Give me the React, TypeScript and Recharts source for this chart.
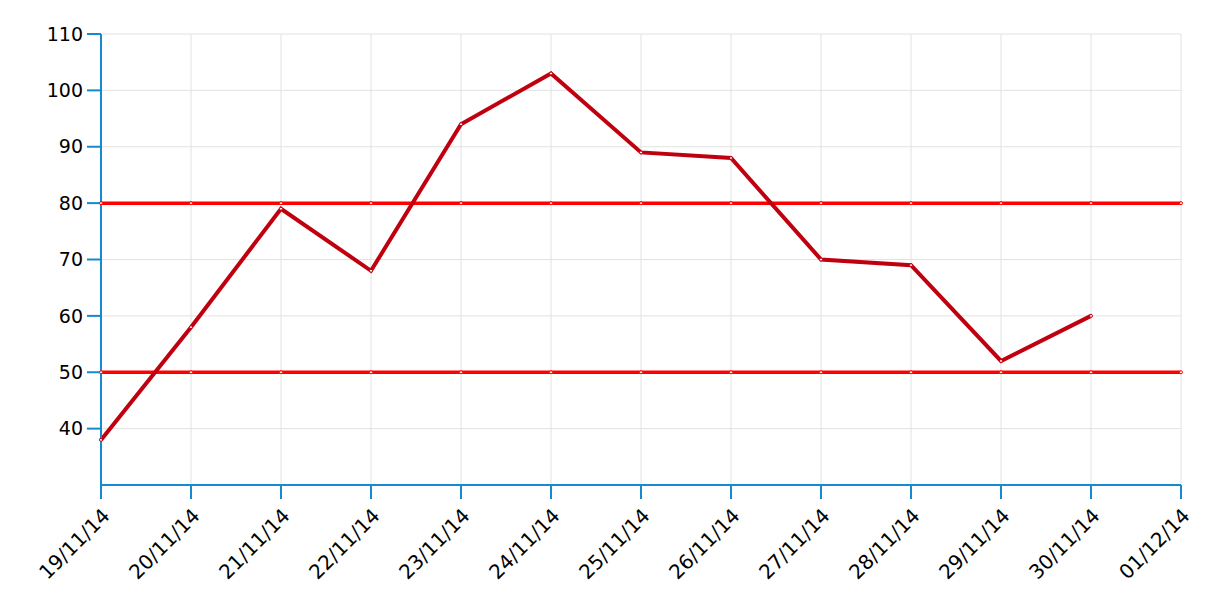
import { CartesianGrid, Line, LineChart, XAxis, YAxis } from "recharts";

const dates = [
  "19/11/14",
  "20/11/14",
  "21/11/14",
  "22/11/14",
  "23/11/14",
  "24/11/14",
  "25/11/14",
  "26/11/14",
  "27/11/14",
  "28/11/14",
  "29/11/14",
  "30/11/14",
  "01/12/14",
];
const values: (number | null)[] = [38, 58, 79, 68, 94, 103, 89, 88, 70, 69, 52, 60, null];
const upperLimit = [80, 80, 80, 80, 80, 80, 80, 80, 80, 80, 80, 80, 80];
const lowerLimit = [50, 50, 50, 50, 50, 50, 50, 50, 50, 50, 50, 50, 50];
const yTicks = [40, 50, 60, 70, 80, 90, 100, 110];

const data = dates.map((date, i) => ({
  date,
  value: values[i],
  upper: upperLimit[i],
  lower: lowerLimit[i],
}));

const axisColor = "#1689cf";
const font = "DejaVu Sans, Verdana, sans-serif";

export default function App() {
  return (
    <div style={{ width: 1194, height: 590, fontFamily: font }}>
      <LineChart
        width={1194}
        height={590}
        data={data}
        margin={{ top: 26, right: 21, left: 23, bottom: 13 }}
      >
        <CartesianGrid stroke="#e2e2e2" strokeWidth={1} />
        <XAxis
          dataKey="date"
          stroke={axisColor}
          strokeWidth={2}
          tickSize={14}
          tickMargin={8}
          angle={-45}
          textAnchor="end"
          interval={0}
          height={100}
          tick={{ fill: "#000", fontSize: 20, fontFamily: font }}
        />
        <YAxis
          type="number"
          domain={[30, 110]}
          ticks={yTicks}
          stroke={axisColor}
          strokeWidth={2}
          tickSize={14}
          tickMargin={4}
          width={70}
          tick={{ fill: "#000", fontSize: 19, fontFamily: font }}
        />
        <Line
          dataKey="upper"
          stroke="#ff0000"
          strokeWidth={3.5}
          dot={{ r: 1.5, fill: "#fff", stroke: "#ff0000", strokeWidth: 1 }}
          isAnimationActive={false}
        />
        <Line
          dataKey="lower"
          stroke="#ff0000"
          strokeWidth={3.5}
          dot={{ r: 1.5, fill: "#fff", stroke: "#ff0000", strokeWidth: 1 }}
          isAnimationActive={false}
        />
        <Line
          dataKey="value"
          stroke="#c0000e"
          strokeWidth={4}
          dot={{ r: 1.5, fill: "#fff", stroke: "#c0000e", strokeWidth: 1 }}
          isAnimationActive={false}
        />
      </LineChart>
    </div>
  );
}
